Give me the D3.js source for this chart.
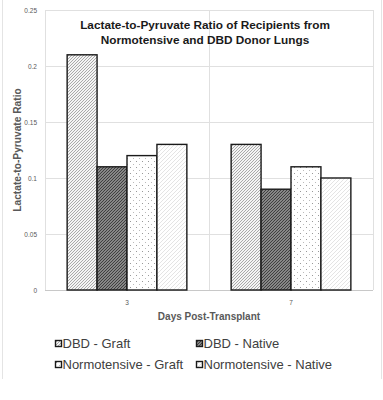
<!DOCTYPE html>
<html>
<head>
<meta charset="utf-8">
<script src="https://cdn.jsdelivr.net/npm/d3@7"></script>
<style>
  body { margin: 0; background: #fff; }
  text { font-family: "Liberation Sans", Arial, sans-serif; }
</style>
</head>
<body>
<svg id="chart" width="383" height="400"></svg>
<script>

// Data
const days = ["3", "7"];
const seriesNames = ["DBD - Graft", "DBD - Native", "Normotensive - Graft", "Normotensive - Native"];
const dbdGraft = [0.21, 0.13];
const dbdNative = [0.11, 0.09];
const normoGraft = [0.12, 0.11];
const normoNative = [0.13, 0.10];
const yTicks = [0, 0.05, 0.1, 0.15, 0.2, 0.25];

const seriesValues = [dbdGraft, dbdNative, normoGraft, normoNative];
const patternIds = ["pat-dbd-graft", "pat-dbd-native", "pat-normo-graft", "pat-normo-native"];

const svg = d3.select("#chart");
const margin = {left: 45, right: 10, top: 10, bottom: 110};
const width = 383 - margin.left - margin.right;
const height = 400 - margin.top - margin.bottom;

// Patterns
const defs = svg.append("defs");

function hatch(id, size, stroke, sw, bg) {
	const p = defs.append("pattern")
				.attr("id", id)
				.attr("patternUnits", "userSpaceOnUse")
				.attr("width", size)
				.attr("height", size);
	p.append("rect").attr("width", size).attr("height", size).attr("fill", bg);
	p.append("path")
		.attr("d", `M0,${size} L${size},0 M${-size/2},${size/2} L${size/2},${-size/2} M${size/2},${size*1.5} L${size*1.5},${size/2}`)
		.attr("stroke", stroke)
		.attr("stroke-width", sw);
}
hatch(patternIds[0], 3, "#a0a0a0", 0.9, "#f4f4f4");
hatch(patternIds[1], 3, "#3c3c3c", 1.2, "#a8a8a8");
hatch(patternIds[3], 4, "#e4e4e4", 1, "#ffffff");

const dots = defs.append("pattern")
				.attr("id", patternIds[2])
				.attr("patternUnits", "userSpaceOnUse")
				.attr("width", 6)
				.attr("height", 6);
dots.append("rect").attr("width", 6).attr("height", 6).attr("fill", "#fff");
dots.append("rect").attr("x", 1).attr("y", 1).attr("width", 1).attr("height", 1).attr("fill", "#999");
dots.append("rect").attr("x", 4).attr("y", 4).attr("width", 1).attr("height", 1).attr("fill", "#bbb");

// Outer frame
svg.append("line").attr("x1", 2.5).attr("x2", 2.5).attr("y1", 0).attr("y2", 379)
	.attr("stroke", "#e4e4e4");
svg.append("line").attr("x1", 381.5).attr("x2", 381.5).attr("y1", 0).attr("y2", 379)
	.attr("stroke", "#e4e4e4");

const g = svg.append("g")
			.attr("transform", `translate(${margin.left},${margin.top})`);

// Scales
const x0 = d3.scaleBand()
			.domain(days)
			.range([0, width])
			.paddingInner(0)
			.paddingOuter(0);

const x1 = d3.scaleBand()
			.domain(d3.range(seriesNames.length))
			.range([x0.bandwidth() * 0.135, x0.bandwidth() * 0.865]);

const y = d3.scaleLinear()
			.domain([0, 0.25])
			.range([height, 0]);

// Gridlines
g.selectAll(".hgrid")
	.data(yTicks)
	.enter()
	.append("line")
		.attr("x1", 0)
		.attr("x2", width)
		.attr("y1", d => Math.round(y(d)) + 0.5)
		.attr("y2", d => Math.round(y(d)) + 0.5)
		.attr("stroke", "#e0e0e0");

g.selectAll(".vgrid")
	.data([0, x0.bandwidth(), width])
	.enter()
	.append("line")
		.attr("x1", d => Math.round(d) + 0.5)
		.attr("x2", d => Math.round(d) + 0.5)
		.attr("y1", 0)
		.attr("y2", height)
		.attr("stroke", "#e0e0e0");

// Y axis
const yAxis = d3.axisLeft(y)
				.tickValues(yTicks)
				.tickSize(0)
				.tickPadding(8)
				.tickFormat(d => d3.format("")(+d.toFixed(2)));

g.append("g")
	.call(yAxis)
	.call(a => a.select(".domain").remove())
	.selectAll("text")
		.attr("fill", "#595959")
		.style("font-size", "6.5px");

// X axis
const xAxis = d3.axisBottom(x0)
				.tickSize(0)
				.tickPadding(10);

g.append("g")
	.attr("transform", `translate(0,${height})`)
	.call(xAxis)
	.call(a => a.select(".domain").remove())
	.selectAll("text")
		.attr("fill", "#595959")
		.style("font-size", "6.5px");

// Baseline
g.append("line")
	.attr("x1", 0)
	.attr("x2", width)
	.attr("y1", height + 0.5)
	.attr("y2", height + 0.5)
	.attr("stroke", "#c8c8c8");

// Bars
const groups = g.selectAll(".day")
				.data(days)
				.enter()
				.append("g")
					.attr("transform", d => `translate(${x0(d)},0)`);

groups.selectAll("rect")
	.data((d, i) => seriesValues.map((s, k) => ({k: k, v: s[i]})))
	.enter()
	.append("rect")
		.attr("x", d => x1(d.k))
		.attr("y", d => y(d.v))
		.attr("width", x1.bandwidth())
		.attr("height", d => height - y(d.v))
		.attr("fill", d => `url(#${patternIds[d.k]})`)
		.attr("stroke", "#1a1a1a")
		.attr("stroke-width", 1.4);

// Title
const title = svg.append("text")
				.attr("x", 205)
				.attr("y", 29)
				.attr("text-anchor", "middle")
				.attr("fill", "#1a1a1a")
				.style("font-size", "11.8px")
				.style("font-weight", "bold");
title.append("tspan").attr("x", 205).text("Lactate-to-Pyruvate Ratio of Recipients from");
title.append("tspan").attr("x", 205).attr("dy", 15).text("Normotensive and DBD Donor Lungs");

// Axis titles
svg.append("text")
	.attr("transform", `translate(21,${margin.top + height / 2}) rotate(-90)`)
	.attr("text-anchor", "middle")
	.attr("fill", "#595959")
	.style("font-size", "10.2px")
	.style("font-weight", "bold")
	.text("Lactate-to-Pyruvate Ratio");

svg.append("text")
	.attr("x", margin.left + width / 2)
	.attr("y", 320)
	.attr("text-anchor", "middle")
	.attr("fill", "#595959")
	.style("font-size", "10px")
	.style("font-weight", "bold")
	.text("Days Post-Transplant");

// Legend
const legend = svg.selectAll(".legend")
				.data(seriesNames)
				.enter()
				.append("g")
					.attr("transform", (d, i) => `translate(${i % 2 == 0 ? 55 : 196},${i < 2 ? 340 : 361})`);

legend.append("rect")
	.attr("x", 0.5)
	.attr("y", 0.5)
	.attr("width", 6)
	.attr("height", 6)
	.attr("fill", (d, i) => `url(#${patternIds[i]})`)
	.attr("stroke", "#1a1a1a")
	.attr("stroke-width", 1.4);

legend.append("text")
	.attr("x", 7.5)
	.attr("y", 8)
	.attr("fill", "#404040")
	.style("font-size", "13px")
	.text(d => d);

</script>
</body>
</html>
